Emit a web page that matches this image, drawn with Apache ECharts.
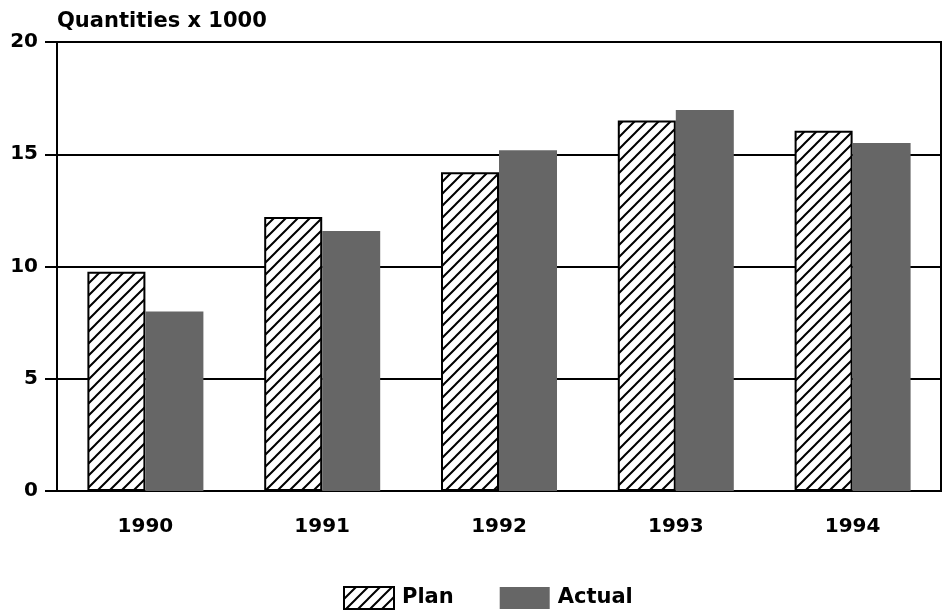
<!DOCTYPE html>
<html>
<head>
<meta charset="utf-8">
<script src="https://cdn.jsdelivr.net/npm/echarts@6/dist/echarts.min.js"></script>
<style>
  html, body { margin: 0; padding: 0; background: #fff; }
  #chart { width: 943px; height: 615px; }
</style>
</head>
<body>
<div id="chart"></div>
<script>
// Yearly quantities (thousands)
const years = ['1990', '1991', '1992', '1993', '1994'];
const planValues = [9.77, 12.2, 14.2, 16.5, 16.05];
const actualValues = [8.0, 11.58, 15.18, 16.97, 15.5];
const yTicks = { min: 0, max: 20, interval: 5 };

const FONT = 'DejaVu Sans';

// Diagonal hatch tile for the plan bars
function hatchPattern() {
  const s = 12;
  const c = document.createElement('canvas');
  c.width = s; c.height = s;
  const g = c.getContext('2d');
  g.fillStyle = '#fff';
  g.fillRect(0, 0, s, s);
  g.strokeStyle = '#000';
  g.lineWidth = 2;
  g.beginPath();
  g.moveTo(-1, s + 1); g.lineTo(s + 1, -1);
  g.moveTo(-1, 1); g.lineTo(1, -1);
  g.moveTo(s - 1, s + 1); g.lineTo(s + 1, s - 1);
  g.stroke();
  return c;
}
const hatch = { image: hatchPattern(), repeat: 'repeat' };

const chart = echarts.init(document.getElementById('chart'), null, { renderer: 'canvas' });
chart.setOption({
  animation: false,
  backgroundColor: '#fff',
  title: {
    text: 'Quantities x 1000',
    left: 52, top: 6,
    textStyle: { fontFamily: FONT, fontWeight: 'bold', fontSize: 21, color: '#000' }
  },
  legend: {
    bottom: 0,
    left: 338,
    icon: 'rect',
    itemWidth: 50,
    itemHeight: 22,
    itemGap: 46,
    textStyle: { fontFamily: FONT, fontWeight: 'bold', fontSize: 21, color: '#000', padding: [0, 0, 0, 3] },
    data: ['Plan', 'Actual']
  },
  grid: {
    left: 57, right: 2, top: 42, bottom: 124,
    show: true, borderColor: '#000', borderWidth: 2, backgroundColor: 'transparent'
  },
  xAxis: {
    type: 'category',
    data: years,
    axisLine: { lineStyle: { color: '#000', width: 2 } },
    axisTick: { alignWithLabel: true, length: 12, lineStyle: { color: '#000', width: 2 } },
    axisLabel: { margin: 26, fontFamily: FONT, fontWeight: 'bold', fontSize: 20, color: '#000' }
  },
  yAxis: {
    type: 'value',
    min: yTicks.min, max: yTicks.max, interval: yTicks.interval,
    axisLine: { show: true, lineStyle: { color: '#000', width: 2 } },
    axisTick: { show: true, length: 12, lineStyle: { color: '#000', width: 2 } },
    splitLine: { show: true, lineStyle: { color: '#000', width: 2 } },
    axisLabel: { margin: 19, fontFamily: FONT, fontWeight: 'bold', fontSize: 20, color: '#000' }
  },
  series: [
    {
      name: 'Plan',
      type: 'bar',
      data: planValues,
      barWidth: 58,
      barGap: '0%',
      itemStyle: { color: hatch, borderColor: '#000', borderWidth: 2 }
    },
    {
      name: 'Actual',
      type: 'bar',
      data: actualValues,
      barWidth: 58,
      itemStyle: { color: '#666666' }
    }
  ]
});
</script>
</body>
</html>
